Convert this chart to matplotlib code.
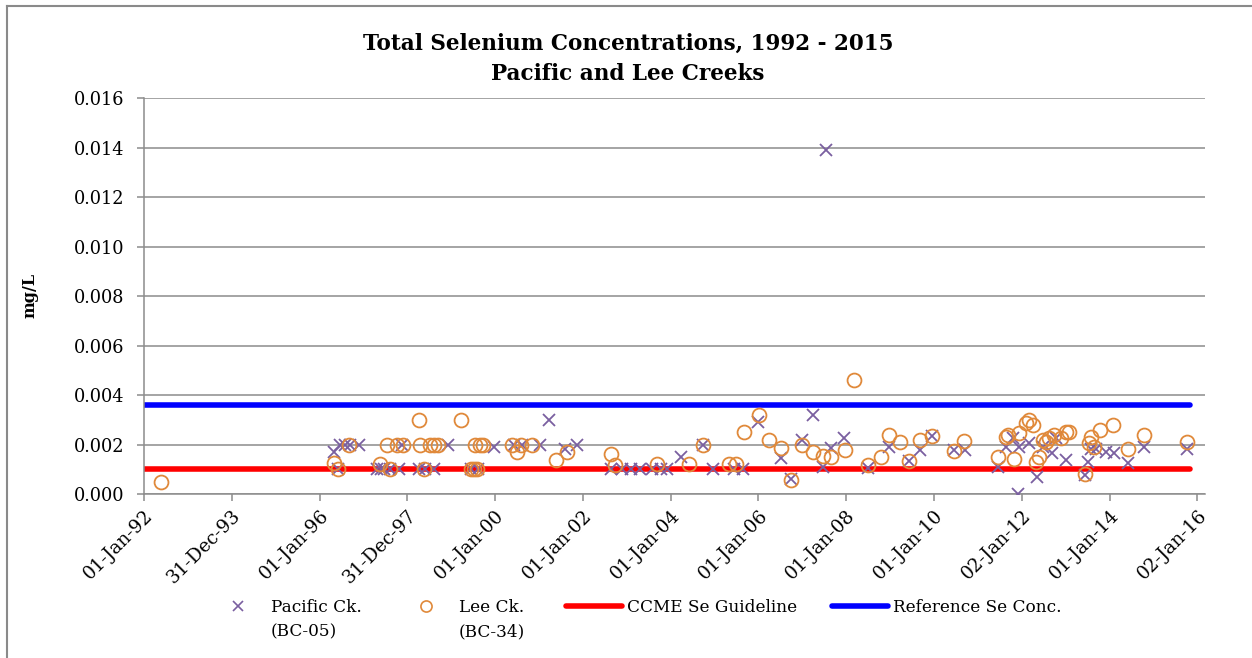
import matplotlib
matplotlib.use("Agg")
import matplotlib.pyplot as plt
import matplotlib.dates as mdates
from matplotlib.lines import Line2D
from datetime import datetime
import numpy as np

# ---------------- data (decimal years, mg/L) ----------------
pacific_year = [1996.32, 1996.43, 1996.47, 1996.58, 1996.70, 1996.90, 1997.31, 1997.40,
                1997.46, 1997.61, 1997.80, 1997.88, 1998.26, 1998.41, 1998.60, 1998.93,
                1999.44, 1999.62, 1999.97, 2000.42, 2000.62, 2001.03, 2001.22, 2001.60,
                2001.87, 2002.63, 2002.90, 2003.09, 2003.31, 2003.58, 2003.77, 2003.92,
                2004.23, 2004.73, 2004.97, 2005.44, 2005.64, 2005.99, 2006.51, 2006.74,
                2006.99, 2007.24, 2007.46, 2007.53, 2007.65, 2007.95, 2008.49, 2008.98,
                2009.43, 2009.68, 2009.95, 2010.46, 2010.70, 2011.45, 2011.64, 2011.79,
                2011.91, 2011.94, 2012.17, 2012.35, 2012.48, 2012.70, 2012.78, 2013.01,
                2013.43, 2013.50, 2013.58, 2013.69, 2013.92, 2014.11, 2014.43, 2014.78,
                2015.76]
pacific_se = [0.0017, 0.0010, 0.0020, 0.0020, 0.0020, 0.0020, 0.0010, 0.0010,
              0.0010, 0.0010, 0.0010, 0.0020, 0.0010, 0.0010, 0.0010, 0.0020,
              0.0010, 0.0010, 0.0019, 0.0020, 0.0020, 0.0020, 0.0030, 0.0018,
              0.0020, 0.0010, 0.0010, 0.0010, 0.0010, 0.0010, 0.0010, 0.0010,
              0.0015, 0.0020, 0.0010, 0.0010, 0.0010, 0.0029, 0.00144, 0.0006,
              0.0022, 0.0032, 0.0011, 0.0139, 0.00185, 0.00225, 0.00104, 0.0019,
              0.00133, 0.00178, 0.00235, 0.00178, 0.00178, 0.0011, 0.0019, 0.00225,
              0.0000, 0.0019, 0.00205, 0.0007, 0.0019, 0.00165, 0.00225, 0.00137,
              0.00077, 0.0013, 0.0018, 0.0018, 0.0017, 0.00165, 0.00127, 0.0019,
              0.0018]

lee_year = [1992.38, 1996.34, 1996.43, 1996.68, 1997.37, 1997.54, 1997.61, 1997.76,
            1997.91, 1998.26, 1998.30, 1998.39, 1998.52, 1998.60, 1998.71, 1999.22,
            1999.44, 1999.51, 1999.59, 1999.55, 1999.66, 1999.73, 2000.39, 2000.50,
            2000.58, 2000.84, 2001.38, 2001.64, 2002.63, 2002.74, 2003.69, 2004.42,
            2004.73, 2005.33, 2005.50, 2005.67, 2006.01, 2006.24, 2006.51, 2006.74,
            2006.99, 2007.24, 2007.46, 2007.65, 2007.97, 2008.18, 2008.49, 2008.79,
            2008.98, 2009.23, 2009.43, 2009.68, 2009.95, 2010.46, 2010.69, 2011.45,
            2011.64, 2011.68, 2011.83, 2011.94, 2012.10, 2012.17, 2012.25, 2012.32,
            2012.40, 2012.48, 2012.55, 2012.63, 2012.74, 2012.89, 2013.01, 2013.08,
            2013.43, 2013.54, 2013.58, 2013.65, 2013.79, 2014.09, 2014.43, 2014.78,
            2015.76]
lee_se = [0.0005, 0.00124, 0.0010, 0.0020, 0.0012, 0.0020, 0.0010, 0.0020,
          0.0020, 0.0030, 0.0020, 0.0010, 0.0020, 0.0020, 0.0020, 0.0030,
          0.0010, 0.0010, 0.0010, 0.0020, 0.0020, 0.0020, 0.0020, 0.0017,
          0.0020, 0.0020, 0.00137, 0.00168, 0.0016, 0.00117, 0.0012, 0.0012,
          0.0020, 0.0012, 0.0012, 0.0025, 0.0032, 0.0022, 0.00187, 0.00057,
          0.0020, 0.0017, 0.00154, 0.00148, 0.00178, 0.0046, 0.00117, 0.00148,
          0.0024, 0.0021, 0.00133, 0.0022, 0.00235, 0.00175, 0.00214, 0.0015,
          0.0023, 0.0024, 0.0014, 0.00245, 0.00286, 0.0030, 0.0028, 0.0013,
          0.0015, 0.0022, 0.0021, 0.00225, 0.0024, 0.00225, 0.0025, 0.0025,
          0.0008, 0.00205, 0.0023, 0.0019, 0.0026, 0.0028, 0.0018, 0.0024,
          0.0021]

line_year = [1992.0, 2015.84]
ccme_guideline = [0.001, 0.001]
reference_conc = [0.0036, 0.0036]

x_tick_labels = ["01-Jan-92", "31-Dec-93", "01-Jan-96", "31-Dec-97", "01-Jan-00",
                 "01-Jan-02", "01-Jan-04", "01-Jan-06", "01-Jan-08", "01-Jan-10",
                 "02-Jan-12", "01-Jan-14", "02-Jan-16"]
y_ticks = [0.000, 0.002, 0.004, 0.006, 0.008, 0.010, 0.012, 0.014, 0.016]

title_lines = ["Total Selenium Concentrations, 1992 - 2015", "Pacific and Lee Creeks"]
y_label = "mg/L"
legend_labels = ["Pacific Ck.", "Lee Ck.", "CCME Se Guideline", "Reference Se Conc."]
legend_sub_labels = ["(BC-05)", "(BC-34)", None, None]

# ---------------- helpers ----------------
BASE = mdates.date2num(datetime(1992, 1, 1))


def to_num(years):
    return BASE + (np.asarray(years) - 1992.0) * 365.25


W, H = 1252, 658
plt.rcParams['font.family'] = ['DejaVu Serif']
fig = plt.figure(figsize=(W / 100, H / 100), dpi=100)

ax = fig.add_axes([144 / W, 1 - 494 / H, (1205 - 144) / W, (494 - 98.3) / H])

GRID = '#8c8c8c'
PURPLE = '#7a5fa0'
ORANGE = '#e0893a'

ax.plot(to_num(line_year), ccme_guideline, color='#ff0000', lw=4.0,
        solid_capstyle='round', zorder=2)
ax.plot(to_num(line_year), reference_conc, color='#0000ff', lw=4.0,
        solid_capstyle='round', zorder=2)
ax.plot(to_num(pacific_year), pacific_se, linestyle='none', marker='x',
        markersize=8.5, markeredgewidth=1.3, color=PURPLE, zorder=3)
ax.plot(to_num(lee_year), lee_se, linestyle='none', marker='o', markersize=10,
        markerfacecolor='none', markeredgewidth=1.3, markeredgecolor=ORANGE, zorder=4)

ticks = BASE + 730.5 * np.arange(len(x_tick_labels))
ax.set_xlim(ticks[0], ticks[-1] + 64)
ax.set_xticks(ticks)
ax.set_xticklabels(x_tick_labels, rotation=45, ha='right', va='top',
                   rotation_mode='anchor', fontsize=13.3)
ax.set_ylim(0, 0.016)
ax.set_yticks(y_ticks)
ax.set_yticklabels([f"{v:.3f}" for v in y_ticks], fontsize=12.8)

ax.grid(axis='y', color=GRID, lw=1.1)
ax.set_axisbelow(True)
for s in ['top', 'right']:
    ax.spines[s].set_visible(False)
for s in ['left', 'bottom']:
    ax.spines[s].set_color(GRID)
    ax.spines[s].set_linewidth(1.1)
ax.tick_params(axis='both', direction='out', length=5, width=1.1, color=GRID)
ax.tick_params(axis='x', pad=4)
ax.tick_params(axis='y', pad=9)

ax.set_ylabel(y_label, fontsize=11.5, fontweight='bold', va='center')
ax.yaxis.set_label_coords((30 - 144) / (1205 - 144), (494 - 295) / (494 - 98.3))

fig.text(628 / W, 1 - 44 / H, title_lines[0], ha='center', va='center', fontsize=15.5,
         fontweight='bold')
fig.text(628 / W, 1 - 74 / H, title_lines[1], ha='center', va='center', fontsize=15.5,
         fontweight='bold')

# ---------------- legend (one legend per entry to match spacing) ----------------
handles = [
    Line2D([], [], linestyle='none', marker='x', markersize=7, markeredgewidth=1.2, color=PURPLE),
    Line2D([], [], linestyle='none', marker='o', markersize=8, markerfacecolor='none',
           markeredgewidth=1.2, markeredgecolor=ORANGE),
    Line2D([], [], color='#ff0000', lw=4.0, solid_capstyle='round'),
    Line2D([], [], color='#0000ff', lw=4.0, solid_capstyle='round'),
]
starts = [210, 398, 566, 832]
fs = 12.2
legs = []
for h, lab, x0 in zip(handles, legend_labels, starts):
    leg = fig.legend([h], [lab], loc='center left', bbox_to_anchor=(x0 / W, 1 - 607 / H),
                     frameon=False, fontsize=fs, handlelength=3.3, handletextpad=0.3,
                     borderpad=0, borderaxespad=0)
    legs.append(leg)

fig.canvas.draw()
renderer = fig.canvas.get_renderer()
for leg, sub in zip(legs, legend_sub_labels):
    if sub is None:
        continue
    t = leg.get_texts()[0]
    bb = t.get_window_extent(renderer)
    fig.text(bb.x0 / W, (bb.y0 - 25) / H, sub, ha='left', va='bottom', fontsize=fs)

# outer chart border (left and top visible)
fig.add_artist(Line2D([7 / W, 7 / W], [0, 1 - 6 / H], transform=fig.transFigure,
                      color='#8a8a8a', lw=1.5))
fig.add_artist(Line2D([7 / W, 1.0], [1 - 6 / H, 1 - 6 / H], transform=fig.transFigure,
                      color='#8a8a8a', lw=1.5))

fig.savefig('out.png', dpi=100)
